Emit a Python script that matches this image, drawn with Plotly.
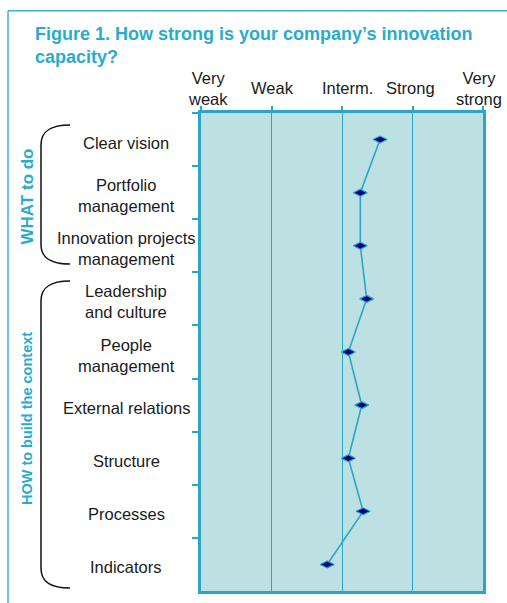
import plotly.graph_objects as go

# ---- data ----
categories = [
    "Clear vision",
    "Portfolio<br>management",
    "Innovation projects<br>management",
    "Leadership<br>and culture",
    "People<br>management",
    "External relations",
    "Structure",
    "Processes",
    "Indicators",
]
scores = [3.54, 3.26, 3.26, 3.35, 3.09, 3.28, 3.09, 3.30, 2.79]
scale_values = [1, 2, 3, 4, 5]
scale_labels = ["Very<br>weak", "Weak", "Interm.", "Strong", "Very<br>strong"]
group_labels = ["WHAT to do", "HOW to build the context"]

# ---- geometry helpers (pixel -> paper) ----
W, H = 507, 603
L, R, T, B = 201, 483, 113, 594


def px(x):
    return (x - L) / (R - L)


def py(y):
    return (B - y) / (B - T)


CYAN = "#2aa6c8"
TITLE_C = "#2aabcc"
BG = "#bde0e3"
FONT = "Liberation Sans, Arial, sans-serif"

fig = go.Figure()
fig.add_trace(go.Scatter(
    x=scores, y=categories, mode="lines+markers",
    line=dict(color=CYAN, width=1.6),
    marker=dict(symbol="diamond-wide", size=10, color="#000080",
                line=dict(color=CYAN, width=1.2)),
    hoverinfo="skip", showlegend=False,
))

annotations = []
# category labels, centred to the left of the plot
for c in categories:
    annotations.append(dict(
        x=px(126), xref="paper", y=c, yref="y", text=c, showarrow=False,
        xanchor="center", yanchor="middle", align="center", yshift=-3,
        font=dict(family=FONT, size=16.5, color="#1a1a1a"),
    ))
# scale labels above the plot
label_shift = [7, 1, 5, -2, -4]
for v, t, s in zip(scale_values, scale_labels, label_shift):
    annotations.append(dict(
        x=v, xref="x", y=py(88), yref="paper", text=t, showarrow=False,
        xanchor="center", yanchor="middle", align="center", xshift=s,
        font=dict(family=FONT, size=16.5, color="#1a1a1a"),
    ))
# group labels (rotated)
annotations.append(dict(
    x=px(27), xref="paper", y=py(197), yref="paper", text="<b>%s</b>" % group_labels[0],
    showarrow=False, textangle=-90, xanchor="center", yanchor="middle",
    font=dict(family=FONT, size=17, color=TITLE_C),
))
annotations.append(dict(
    x=px(27), xref="paper", y=py(421), yref="paper", text="<b>%s</b>" % group_labels[1],
    showarrow=False, textangle=-90, xanchor="center", yanchor="middle",
    font=dict(family=FONT, size=14.5, color=TITLE_C),
))
# title
annotations.append(dict(
    x=px(33), xref="paper", y=py(34), yref="paper",
    text="<b>Figure 1. How strong is your company\u2019s innovation</b>",
    showarrow=False, xanchor="left", yanchor="middle",
    font=dict(family=FONT, size=18, color=TITLE_C),
))
annotations.append(dict(
    x=px(33), xref="paper", y=py(57), yref="paper",
    text="<b>capacity?</b>",
    showarrow=False, xanchor="left", yanchor="middle",
    font=dict(family=FONT, size=18, color=TITLE_C),
))


def path(pts):
    out = []
    for cmd, coords in pts:
        s = " ".join("%.5f,%.5f" % (px(a), py(b)) for a, b in coords)
        out.append(cmd + " " + s)
    return " ".join(out)


def bracket(top, bot):
    return path([
        ("M", [(70, top)]),
        ("C", [(52, top), (41, top + 5), (41, top + 20)]),
        ("L", [(41, bot - 20)]),
        ("C", [(41, bot - 5), (52, bot), (70, bot)]),
    ])


shapes = [
    dict(type="path", xref="paper", yref="paper", path=bracket(125, 265),
         line=dict(color="#111111", width=1.5)),
    dict(type="path", xref="paper", yref="paper", path=bracket(282, 591),
         line=dict(color="#111111", width=1.5)),
    dict(type="line", xref="paper", yref="paper", x0=px(8), y0=py(10), x1=px(510), y1=py(10),
         line=dict(color="#3ab2d2", width=1.5)),
    dict(type="line", xref="paper", yref="paper", x0=px(8), y0=py(10), x1=px(8), y1=py(606),
         line=dict(color="#3ab2d2", width=1.5)),
]

fig.update_layout(
    width=W, height=H,
    margin=dict(l=L, r=W - R, t=T, b=H - B, pad=0),
    paper_bgcolor="white", plot_bgcolor=BG,
    annotations=annotations, shapes=shapes,
    xaxis=dict(range=[1, 5], side="top", tickvals=scale_values, showticklabels=False,
               ticks="outside", ticklen=4, tickcolor=CYAN, tickwidth=1.5,
               showgrid=True, gridcolor=CYAN, gridwidth=1,
               showline=True, linecolor=CYAN, linewidth=2.5, mirror=True, zeroline=False),
    yaxis=dict(type="category", categoryarray=categories, range=[len(categories) - 0.5, -0.5],
               showticklabels=False, ticks="outside", tickson="boundaries", ticklen=6,
               tickcolor=CYAN, tickwidth=1.5, showgrid=False,
               showline=True, linecolor=CYAN, linewidth=2.5, mirror=True, zeroline=False),
)

fig.write_html(
    "out.html",
    config={"displayModeBar": False},
    post_script="document.body.style.margin='0';document.documentElement.style.overflow='hidden';",
)
